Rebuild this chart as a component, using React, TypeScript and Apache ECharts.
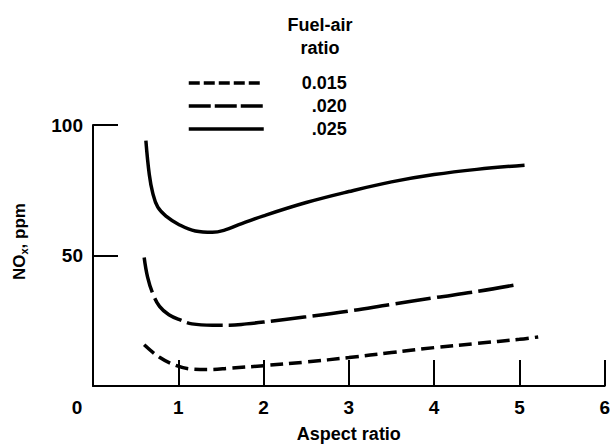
import React, { useEffect, useRef } from "react";
import * as echarts from "echarts";

const seriesNames = ["0.015", ".020", ".025"];
const legendTitle = "Fuel-air\nratio";
const xAxisName = "Aspect ratio";
const xTicks = [0, 1, 2, 3, 4, 5, 6];
const yTicks = [50, 100];

const aspect015 = [0.6, 0.78, 0.97, 1.16, 1.36, 1.6, 2.0, 2.5, 3.0, 3.5, 4.0, 4.5, 5.0, 5.22];
const nox015 = [15.8, 11.0, 7.9, 6.5, 6.3, 6.8, 7.8, 9.2, 10.9, 12.8, 14.7, 16.3, 17.9, 18.8];

const aspect020 = [0.6, 0.64, 0.7, 0.78, 0.89, 1.03, 1.16, 1.4, 1.6, 1.8, 2.0, 2.5, 3.0, 3.5, 4.0, 4.5, 4.93];
const nox020 = [49.2, 41.7, 35.5, 30.5, 27.3, 25.2, 23.8, 23.3, 23.3, 23.8, 24.5, 26.5, 28.7, 31.3, 33.8, 36.2, 38.6];

const aspect025 = [0.62, 0.66, 0.7, 0.76, 0.86, 1.01, 1.2, 1.4, 1.55, 1.71, 2.0, 2.5, 3.0, 3.5, 4.0, 4.5, 5.06];
const nox025 = [94.0, 81.0, 74.0, 68.5, 65.0, 61.8, 59.4, 58.9, 59.8, 61.8, 65.2, 70.3, 74.5, 78.2, 81.0, 83.0, 84.6];

const FONT = "'Liberation Sans', Arial, Helvetica, sans-serif";

const zip = (xs: number[], ys: number[]) => xs.map((x, i) => [x, ys[i]]);

export default function App() {
  const ref = useRef<HTMLDivElement>(null);
  useEffect(() => {
    if (!ref.current) return;
    const chart = echarts.init(ref.current, null, { renderer: "svg" });
    const seriesStyles = [
      { width: 3.5, type: [13, 6] },
      { width: 3.5, type: [36, 6] },
      { width: 3.5, type: "solid" },
    ];
    const legendDash = [[11, 4], [22, 4], "solid"];
    const datas = [zip(aspect015, nox015), zip(aspect020, nox020), zip(aspect025, nox025)];
    chart.setOption({
      animation: false,
      backgroundColor: "#ffffff",
      textStyle: { fontFamily: FONT, color: "#000" },
      title: {
        text: legendTitle,
        left: 315,
        top: 8,
        textAlign: "center",
        textStyle: { fontFamily: FONT, fontSize: 18, fontWeight: "bold", color: "#000", lineHeight: 23 },
      },
      legend: {
        orient: "vertical",
        left: 182,
        top: 69,
        itemWidth: 75,
        itemHeight: 14,
        itemGap: 5,
        selectedMode: false,
        data: seriesNames.map((n, i) => ({
          name: n,
          itemStyle: { opacity: 0, borderWidth: 0 },
          lineStyle: { type: legendDash[i], width: 3.5, color: "#000" },
        })),
        formatter: (name: string) => `{a|${name}}`,
        textStyle: {
          fontFamily: FONT,
          color: "#000",
          rich: {
            a: { width: 78, align: "right", fontSize: 18, fontWeight: "bold", fontFamily: FONT, color: "#000" },
          },
        },
      },
      grid: { left: 93, right: 3, top: 125, bottom: 57, containLabel: false },
      xAxis: {
        type: "value",
        min: xTicks[0],
        max: xTicks[xTicks.length - 1],
        interval: 1,
        name: xAxisName,
        nameLocation: "middle",
        nameGap: 39,
        nameTextStyle: { fontFamily: FONT, fontSize: 18, fontWeight: "bold", color: "#000" },
        axisLine: { show: true, lineStyle: { color: "#000", width: 2 } },
        axisTick: { show: true, inside: true, length: 26, lineStyle: { color: "#000", width: 2 } },
        splitLine: { show: false },
        axisLabel: {
          margin: 12,
          color: "#000",
          fontFamily: FONT,
          fontSize: 19,
          fontWeight: "bold",
          showMaxLabel: true,
          showMinLabel: true,
          formatter: (v: number) => (v === 0 ? `{z|${v}}` : `${v}`),
          rich: {
            z: { padding: [0, 32, 0, 0], fontSize: 19, fontWeight: "bold", fontFamily: FONT, color: "#000" },
          },
        },
      },
      yAxis: {
        type: "value",
        min: 0,
        max: yTicks[yTicks.length - 1],
        interval: yTicks[0],
        name: "NO{sub|x}, ppm",
        nameLocation: "middle",
        nameGap: 64,
        nameRotate: 90,
        nameTextStyle: {
          fontFamily: FONT,
          fontSize: 17,
          fontWeight: "bold",
          color: "#000",
          padding: [0, 0, 0, 28],
          rich: {
            sub: { fontSize: 11, fontWeight: "bold", fontFamily: FONT, color: "#000", padding: [8, 0, 0, 0] },
          },
        },
        axisLine: { show: true, lineStyle: { color: "#000", width: 2 } },
        axisTick: { show: true, inside: true, length: 25, lineStyle: { color: "#000", width: 2 } },
        splitLine: { show: false },
        axisLabel: {
          margin: 10,
          color: "#000",
          fontFamily: FONT,
          fontSize: 19,
          fontWeight: "bold",
          formatter: (v: number) => (v === 0 ? "" : `${v}`),
        },
      },
      series: seriesNames.map((n, i) => ({
        type: "line",
        symbol: "none",
        smooth: 0.4,
        silent: true,
        name: n,
        data: datas[i],
        lineStyle: { color: "#000", ...seriesStyles[i] },
        itemStyle: { color: "#000" },
      })),
    });
    return () => chart.dispose();
  }, []);
  return (
    <div
      ref={ref}
      style={{ position: "fixed", left: 0, top: 0, width: 613, height: 448, background: "#fff" }}
    />
  );
}
